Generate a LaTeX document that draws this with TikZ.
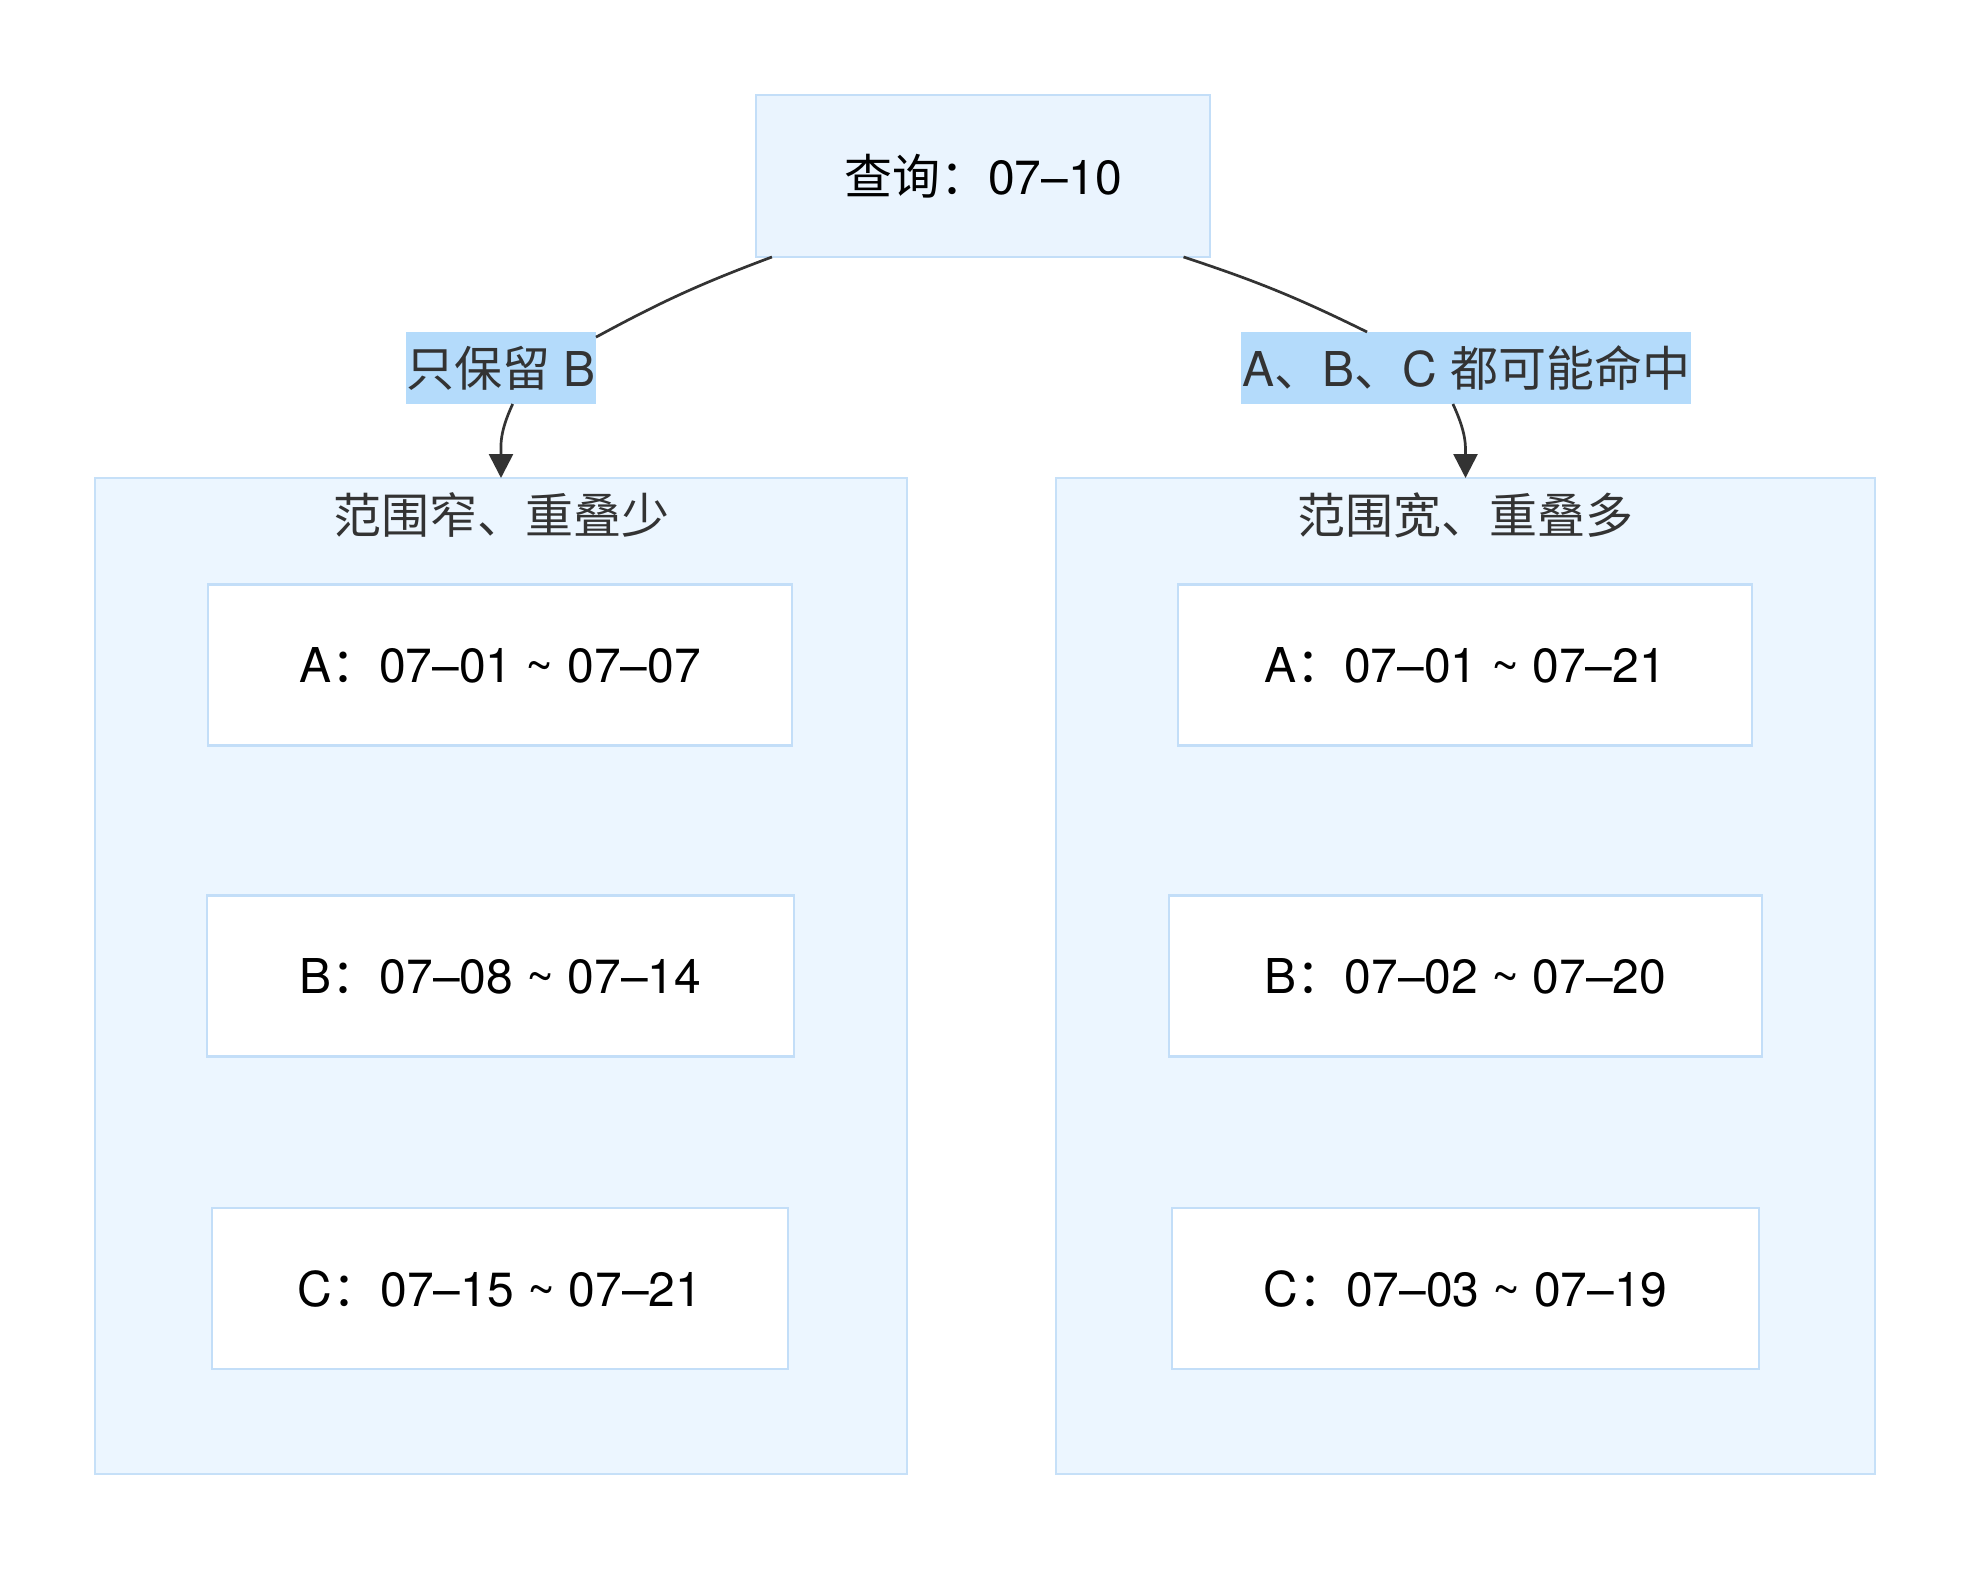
\documentclass[tikz,border=0pt]{standalone}
\usepackage{fontspec}
\setmainfont{TeX Gyre Heros}
\newfontfamily\cjk{Noto Sans CJK SC}
\usetikzlibrary{arrows.meta}
\definecolor{nodefill}{HTML}{EAF4FE}
\definecolor{nodeline}{HTML}{C3DEF8}
\definecolor{clfill}{HTML}{ECF6FF}
\definecolor{clline}{HTML}{C6E0F8}
\definecolor{lblfill}{HTML}{B4DBFB}
\definecolor{ink}{HTML}{333333}
\newcommand{\tld}{\textasciitilde}
\tikzset{
  txt/.style={font=\fontsize{48}{56}\selectfont},
  topbox/.style={txt, draw=nodeline, line width=2.5pt, fill=nodefill, outer sep=0pt, inner sep=0pt, text=black},
  cluster/.style={draw=clline, line width=2.5pt, fill=clfill, outer sep=0pt, inner sep=0pt},
  itembox/.style={txt, draw=nodeline, line width=2.5pt, fill=white, outer sep=0pt, inner sep=0pt, text=black, minimum height=161pt},
  cltitle/.style={txt, text=ink, inner sep=0pt},
  edgelbl/.style={txt, fill=lblfill, text=ink, inner sep=0pt, outer sep=0pt, minimum height=72pt},
  conn/.style={draw=ink, line width=2.7pt},
  arr/.style={conn, -{Triangle[length=24pt,width=24pt]}},
}
\begin{document}
\begin{tikzpicture}[x=1pt,y=-1pt]
\useasboundingbox[fill=white] (0,0) rectangle (1969,1570);
% top node
\node[topbox, minimum width=454pt, minimum height=162pt] (q) at (983,176) {{\cjk 查询：}07–10};
% clusters
\node[cluster, minimum width=812pt, minimum height=996pt] (cl) at (501,976) {};
\node[cluster, minimum width=819pt, minimum height=996pt] (cr) at (1465.5,976) {};
\node[cltitle] (tl) at (501,515) {\cjk 范围窄、重叠少};
\node[cltitle] (tr) at (1465.5,515) {\cjk 范围宽、重叠多};
% left items
\node[itembox, minimum width=584pt] (la) at (500,665) {A{\cjk ：}07–01 \tld{} 07–07};
\node[itembox, minimum width=587pt] (lb) at (500.5,976) {B{\cjk ：}07–08 \tld{} 07–14};
\node[itembox, minimum width=576pt] (lc) at (500,1288.5) {C{\cjk ：}07–15 \tld{} 07–21};
% right items
\node[itembox, minimum width=574pt] (ra) at (1465,665) {A{\cjk ：}07–01 \tld{} 07–21};
\node[itembox, minimum width=593pt] (rb) at (1465.5,976) {B{\cjk ：}07–02 \tld{} 07–20};
\node[itembox, minimum width=587pt] (rc) at (1465.5,1288.5) {C{\cjk ：}07–03 \tld{} 07–19};
% edge labels
\node[edgelbl, minimum width=190pt] (ll) at (501,368) {{\cjk 只保留} B};
\node[edgelbl, minimum width=450pt] (rl) at (1466,368) {A{\cjk 、}B{\cjk 、}C {\cjk 都可能命中}};
% connectors
\draw[conn] (q.201.6) to[bend right=4] (ll.18);
\draw[arr] (ll.288.4) to[out=-115,in=90,looseness=1.1] (cl.north);
\draw[conn] (q.338.3) to[bend left=4] (rl.160.7);
\draw[arr] (rl.250.1) to[out=-65,in=90,looseness=1.1] (cr.north);
\end{tikzpicture}
\end{document}
